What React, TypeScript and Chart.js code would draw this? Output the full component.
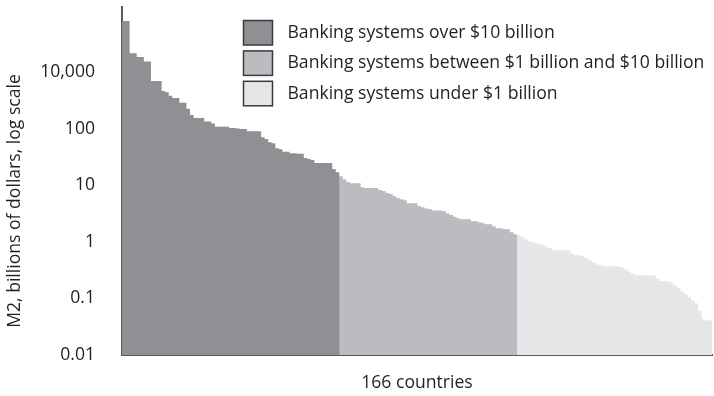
import React, { useEffect, useRef } from "react";
import { Chart, registerables } from "chart.js";

Chart.register(...registerables);

// M2 per country, sorted descending (values read in the chart's axis units)
const overTen = [
  7800, 7800, 2100, 2100, 1800, 1800, 1500, 1500, 680, 680, 680, 450, 430, 370, 340, 340,
  280, 280, 220, 170, 150, 150, 150, 130, 130, 120, 105, 105, 105, 105, 100, 100, 98, 96,
  96, 88, 88, 88, 88, 69, 64, 56, 54, 44, 42, 38, 38, 36, 36, 35, 35, 29.5, 28.3, 27.2,
  24, 24, 24, 24, 24, 18.8, 16.6,
];
const oneToTen = [
  14.1, 12.5, 11.1, 10.6, 10.6, 10.6, 9.0, 8.7, 8.7, 8.7, 8.7, 8.0, 7.7, 7.1, 6.8, 6.3,
  5.8, 5.5, 5.3, 4.7, 4.7, 4.7, 4.2, 4.0, 3.8, 3.7, 3.5, 3.5, 3.5, 3.4, 3.1, 2.9, 2.7,
  2.55, 2.45, 2.45, 2.45, 2.26, 2.26, 2.17, 2.08, 2.0, 2.0, 1.84, 1.7, 1.7, 1.63, 1.63,
  1.44, 1.33,
];
const underOne = [
  1.28, 1.18, 1.08, 1.0, 0.96, 0.92, 0.885, 0.85, 0.78, 0.75, 0.69, 0.69, 0.69, 0.69, 0.69,
  0.61, 0.565, 0.565, 0.54, 0.5, 0.46, 0.425, 0.39, 0.376, 0.36, 0.36, 0.36, 0.36, 0.36,
  0.347, 0.32, 0.294, 0.27, 0.25, 0.25, 0.25, 0.25, 0.25, 0.25, 0.22, 0.196, 0.196, 0.196,
  0.188, 0.166, 0.147, 0.13, 0.115, 0.102, 0.09, 0.08, 0.058, 0.042, 0.04, 0.04,
];

const seriesLabels = [
  "Banking systems over $10 billion",
  "Banking systems between $1 billion and $10 billion",
  "Banking systems under $1 billion",
];
const seriesColors = ["#8f9093", "#bbbcbf", "#e5e6e7"];

const tickValues = [0.01, 0.1, 1, 10, 100, 1000];
const tickLabels = ["0.01", "0.1", "1", "10", "100", "10,000"];
const yAxisTitle = "M2, billions of dollars, log scale";
const xAxisTitle = "166 countries";

const FONT = '"Open Sans", "Noto Sans", sans-serif';
const FONT_SIZE = 17.6;
const TEXT = "#231f20";

const boxLegend = {
  id: "boxLegend",
  afterDraw(chart: any) {
    const ctx = chart.ctx;
    const left = chart.chartArea.left;
    ctx.save();
    ctx.font = `${FONT_SIZE}px ${FONT}`;
    chart.data.datasets.forEach((ds: any, i: number) => {
      const x = left + 121.5;
      const y = 20.5 + i * 30.4;
      ctx.fillStyle = ds.backgroundColor;
      ctx.fillRect(x, y, 29, 24.5);
      ctx.strokeStyle = "#3a3a3a";
      ctx.lineWidth = 1.5;
      ctx.strokeRect(x, y, 29, 24.5);
      ctx.fillStyle = TEXT;
      ctx.textBaseline = "middle";
      ctx.textAlign = "left";
      ctx.fillText(ds.label, x + 44, y + 12.5);
    });
    // y-axis title (offset below the axis centre, as in the original)
    ctx.translate(15, 201);
    ctx.rotate(-Math.PI / 2);
    ctx.textAlign = "center";
    ctx.textBaseline = "middle";
    ctx.fillStyle = TEXT;
    ctx.fillText(yAxisTitle, 0, 0);
    ctx.restore();
  },
};

export default function App() {
  const canvasRef = useRef<HTMLCanvasElement | null>(null);

  useEffect(() => {
    const groups = [overTen, oneToTen, underOne];
    const total = groups.reduce((s, g) => s + g.length, 0);
    const categories = Array.from({ length: total }, (_, i) => String(i + 1));
    let offset = 0;
    const datasets = groups.map((vals, g) => {
      const data: (number | null)[] = new Array(total).fill(null);
      vals.forEach((v, i) => {
        data[offset + i] = v;
      });
      offset += vals.length;
      return {
        label: seriesLabels[g],
        data,
        backgroundColor: seriesColors[g],
        borderWidth: 0,
        categoryPercentage: 1,
        barPercentage: 1,
        grouped: false,
        inflateAmount: 0.5,
      };
    });

    const chart = new Chart(canvasRef.current!, {
      type: "bar",
      data: { labels: categories, datasets },
      plugins: [boxLegend],
      options: {
        animation: false,
        responsive: false,
        layout: { padding: { top: 7, right: 2, left: 0, bottom: 0 } },
        plugins: { legend: { display: false }, tooltip: { enabled: false } },
        scales: {
          x: {
            type: "category",
            offset: true,
            grid: { display: false, drawTicks: false },
            ticks: { display: false },
            border: { display: true, color: "#5a5a5c", width: 2 },
            title: {
              display: true,
              text: xAxisTitle,
              color: TEXT,
              font: { family: FONT, size: FONT_SIZE },
              padding: { top: 0, bottom: 2 },
            },
            afterFit(scale: any) {
              scale.height = 41;
            },
          },
          y: {
            type: "logarithmic",
            min: 0.01,
            max: 14000,
            grid: { display: false, drawTicks: false },
            border: { display: true, color: "#5a5a5c", width: 2 },
            ticks: {
              padding: 27,
              color: TEXT,
              font: { family: FONT, size: FONT_SIZE },
              callback: (_v: any, i: number) => tickLabels[i],
            },
            afterBuildTicks(scale: any) {
              scale.ticks = tickValues.map((v) => ({ value: v }));
            },
            title: { display: false, text: yAxisTitle },
            afterFit(scale: any) {
              scale.width = 122;
              scale.paddingTop = 0;
              scale.paddingBottom = 0;
            },
          },
        },
      } as any,
    });
    return () => chart.destroy();
  }, []);

  return (
    <div style={{ position: "fixed", left: 0, top: 0, width: 714, height: 396 }}>
      <canvas ref={canvasRef} width={714} height={396} style={{ display: "block" }} />
    </div>
  );
}
